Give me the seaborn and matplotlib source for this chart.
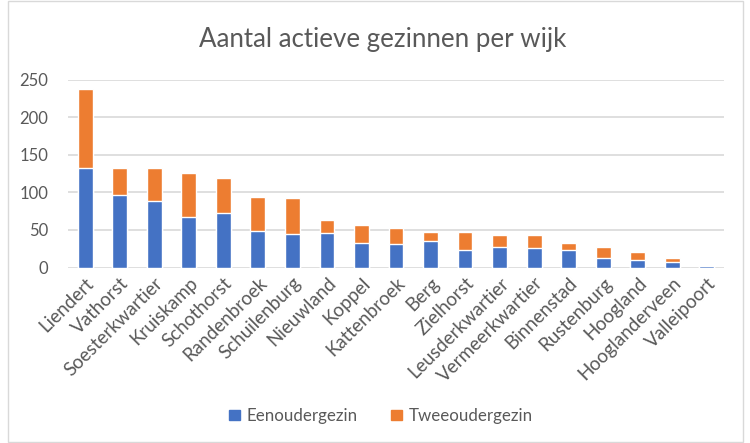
import numpy as np
import pandas as pd
import matplotlib.pyplot as plt
import matplotlib.patches as mpatches
import seaborn as sns

wijken = ["Liendert", "Vathorst", "Soesterkwartier", "Kruiskamp", "Schothorst",
          "Randenbroek", "Schuilenburg", "Nieuwland", "Koppel", "Kattenbroek",
          "Berg", "Zielhorst", "Leusderkwartier", "Vermeerkwartier", "Binnenstad",
          "Rustenburg", "Hoogland", "Hooglanderveen", "Valleipoort"]
eenouder = [132, 97, 89, 67, 72, 48, 45, 46, 33, 31, 35, 23, 27, 26, 23, 12, 10, 7, 2]
tweeouder = [106, 35, 43, 59, 47, 46, 48, 17, 24, 21, 12, 24, 16, 17, 9, 15, 10, 5, 0]

blue = "#4472C4"
orange = "#ED7D31"
grey = "#595959"

df = pd.DataFrame({"wijk": wijken, "een": eenouder, "twee": tweeouder})
df["totaal"] = df["een"] + df["twee"]

sns.set_style("white")
plt.rcParams["font.family"] = ["Lato", "DejaVu Sans"]

fig = plt.figure(figsize=(7.5, 4.43), dpi=100)
ax = fig.add_axes([68 / 750, 1 - 267.5 / 443, (724 - 68) / 750, (267.5 - 79.5) / 443])

sns.barplot(data=df, x="wijk", y="totaal", color=orange, width=0.43, ax=ax,
            saturation=1, zorder=2)
sns.barplot(data=df, x="wijk", y="een", color=blue, width=0.43, ax=ax,
            saturation=1, zorder=3)

ax.set_ylim(0, 250)
ax.set_yticks(range(0, 251, 50))
ax.yaxis.grid(True, color="#D9D9D9", linewidth=1.2, zorder=0)
ax.set_axisbelow(True)
for s in ax.spines.values():
    s.set_visible(False)
ax.set_xlabel("")
ax.set_ylabel("")
ax.tick_params(axis="y", length=0, labelsize=12, colors=grey, pad=14)
ax.tick_params(axis="x", length=0, labelsize=13.5, colors=grey, pad=5)
plt.setp(ax.get_xticklabels(), rotation=45, ha="right", rotation_mode="anchor")

fig.text(0.510, 1 - 40 / 443, "Aantal actieve gezinnen per wijk", ha="center",
         va="center", fontsize=18.6, color=grey)

handles = [mpatches.Patch(color=blue, label="Eenoudergezin"),
           mpatches.Patch(color=orange, label="Tweeoudergezin")]
fig.legend(handles=handles, loc="center", bbox_to_anchor=(0.508, 1 - 416 / 443),
           ncol=2, frameon=False, fontsize=12.2, labelcolor=grey,
           handlelength=0.6, handleheight=0.6, columnspacing=2.0, handletextpad=0.4)

fig.patches.append(mpatches.Rectangle((8 / 750, 0.002), 735 / 750, 0.996,
                                      transform=fig.transFigure, fill=False,
                                      edgecolor="#D9D9D9", linewidth=1))

plt.savefig("out.png", dpi=100)
plt.close(fig)
